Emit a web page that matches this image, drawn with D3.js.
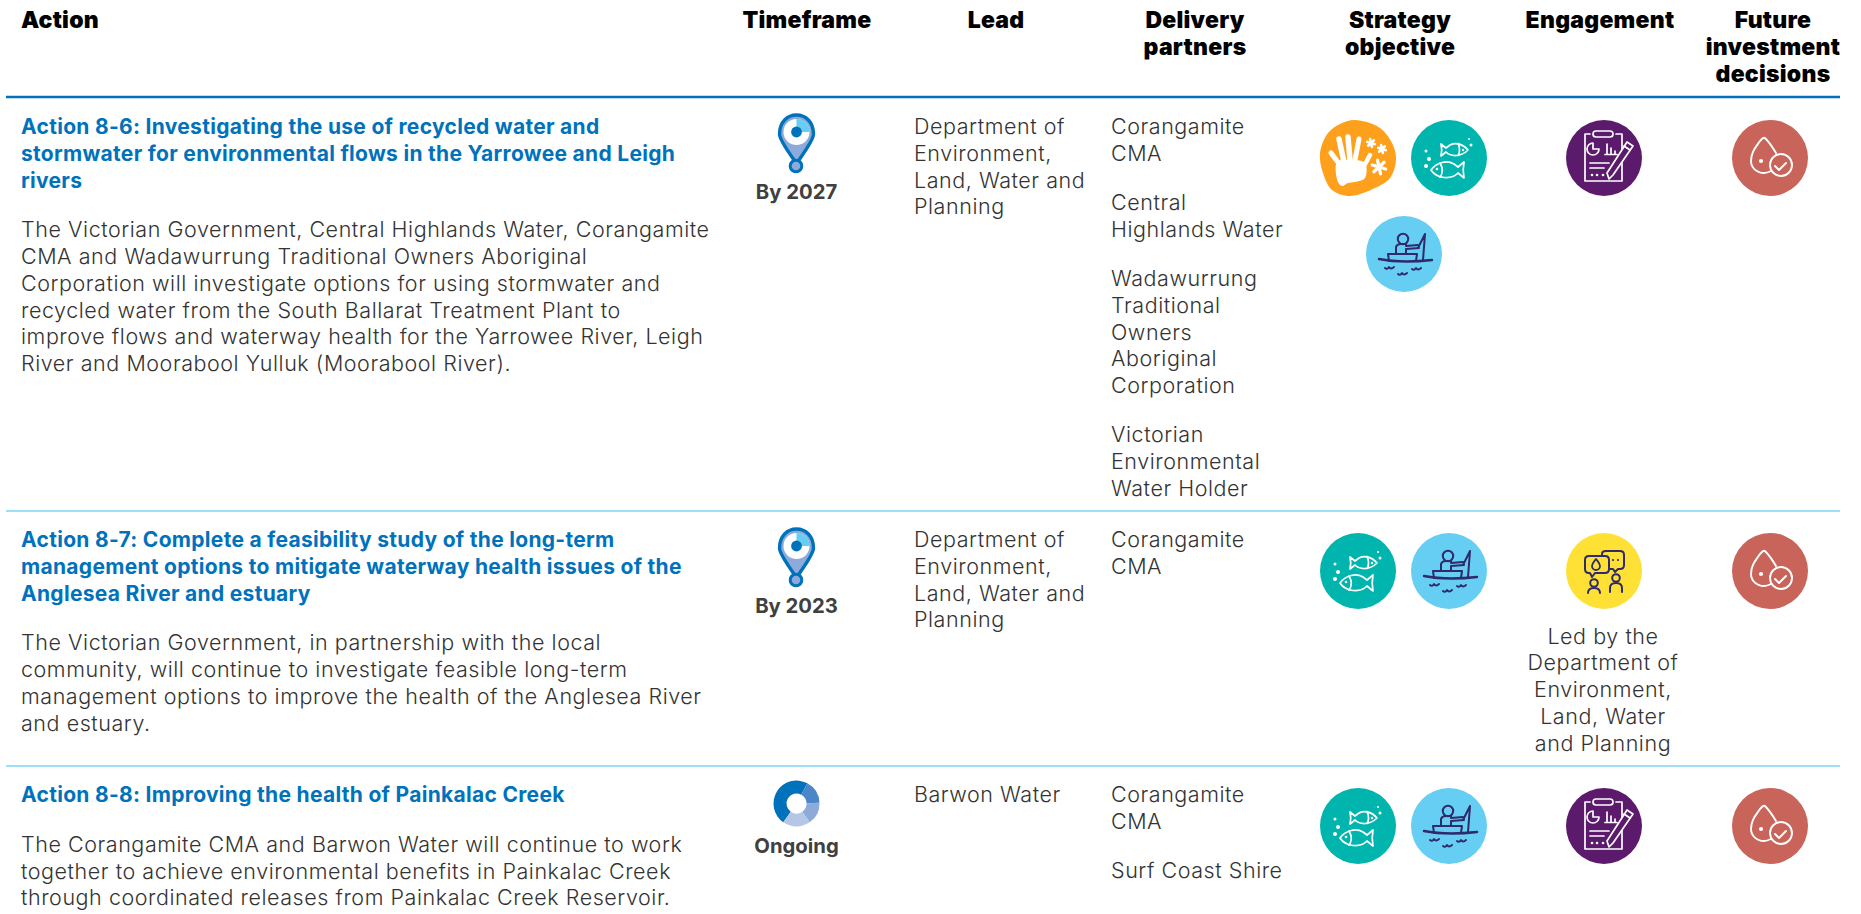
<!DOCTYPE html>
<html><head><meta charset="utf-8">
<script src="https://cdnjs.cloudflare.com/ajax/libs/d3/7.8.5/d3.min.js"></script>
<style>
html,body{margin:0;padding:0;background:#fff}
svg{display:block}
text{font-family:Inter,"Noto Sans",sans-serif;font-kerning:normal}
.hdr{font-size:23px;font-weight:900;fill:#000;letter-spacing:.25px}
.title{font-size:21px;font-weight:700;fill:#0072bc;letter-spacing:.3px}
.body{font-size:21.5px;font-weight:300;fill:#333;letter-spacing:.55px}
.tf{font-size:20.3px;font-weight:700;fill:#404040}
</style></head><body>
<svg id="c" width="1861" height="914"></svg>
<script>
// ---------- data ----------
const columns = ["action","timeframe","lead","partners","strategy","engagement","future"];
const headers = [["Action"],["Timeframe"],["Lead"],["Delivery","partners"],["Strategy","objective"],["Engagement"],["Future","investment","decisions"]];
const titles = [
 ["Action 8-6: Investigating the use of recycled water and","stormwater for environmental flows in the Yarrowee and Leigh","rivers"],
 ["Action 8-7: Complete a feasibility study of the long-term","management options to mitigate waterway health issues of the","Anglesea River and estuary"],
 ["Action 8-8: Improving the health of Painkalac Creek"]];
const bodies = [
 ["The Victorian Government, Central Highlands Water, Corangamite","CMA and Wadawurrung Traditional Owners Aboriginal","Corporation will investigate options for using stormwater and","recycled water from the South Ballarat Treatment Plant to","improve flows and waterway health for the Yarrowee River, Leigh","River and Moorabool Yulluk (Moorabool River)."],
 ["The Victorian Government, in partnership with the local","community, will continue to investigate feasible long-term","management options to improve the health of the Anglesea River","and estuary."],
 ["The Corangamite CMA and Barwon Water will continue to work","together to achieve environmental benefits in Painkalac Creek","through coordinated releases from Painkalac Creek Reservoir."]];
const timeframes = ["By 2027","By 2023","Ongoing"];
const timeIcons = ["pin","pin","donut"];
const ongoingShares = [173,60,57,70];
const ongoingColors = ["#0072bc","#4a86c8","#8eaadb","#b4c7e7"];
const leads = [
 ["Department of","Environment,","Land, Water and","Planning"],
 ["Department of","Environment,","Land, Water and","Planning"],
 ["Barwon Water"]];
const partners = [
 [["Corangamite","CMA"],["Central","Highlands Water"],["Wadawurrung","Traditional","Owners","Aboriginal","Corporation"],["Victorian","Environmental","Water Holder"]],
 [["Corangamite","CMA"]],
 [["Corangamite","CMA"],["Surf Coast Shire"]]];
const strategyIcons = [["hand","fish","fisher"],["fish","fisher"],["fish","fisher"]];
const engagementIcons = ["plan","talk","plan"];
const engagementNotes = [[],["Led by the","Department of","Environment,","Land, Water","and Planning"],[]];
const futureIcons = ["drop","drop","drop"];
const rowTops = [97,511,766];

// ---------- layout ----------
const colX = d3.scaleOrdinal().domain(columns).range([21,796.5,914,1111,1358,1604,1770]);
const headX = d3.scaleOrdinal().domain(columns).range([21,807,996,1195,1400,1600,1773]);
const LH = 26.75, GAP = 22.5;
const svg = d3.select("#c");
const NAVY="#2e2a6b", WHITE="#fff";

function lines(g,x,y,arr,cls,anchor){
  g.selectAll(null).data(arr).join("text").attr("class",cls)
   .attr("x",x).attr("y",(d,i)=>y+i*LH).attr("text-anchor",anchor||"start").text(d=>d);
  return y+arr.length*LH;
}

// header
const hg = svg.append("g");
headers.forEach((h,i)=>lines(hg,headX(columns[i]),28,h,"hdr",i?"middle":"start"));
hg.append("line").attr("x1",6).attr("x2",1840).attr("y1",97).attr("y2",97).attr("stroke","#0072bc").attr("stroke-width",2.6);
svg.selectAll(".sep").data(rowTops.slice(1)).join("line").attr("class","sep")
  .attr("x1",6).attr("x2",1840).attr("y1",d=>d).attr("y2",d=>d).attr("stroke","#7fd3f4").attr("stroke-width",1.4);

// icon helpers
const curve=d3.line().curve(d3.curveCatmullRomClosed.alpha(.5));
function disc(g,color){g.append("circle").attr("r",38).attr("fill",color);}
function st(sel,c,w){return sel.attr("fill","none").attr("stroke",c).attr("stroke-width",w).attr("stroke-linecap","round").attr("stroke-linejoin","round");}
function asterisk(g,x,y,r,w){
  d3.range(3).forEach(k=>{const a=k*Math.PI/3+.3;
    st(g.append("line").attr("x1",x-r*Math.cos(a)).attr("y1",y-r*Math.sin(a)).attr("x2",x+r*Math.cos(a)).attr("y2",y+r*Math.sin(a)),WHITE,w);});
}
const icons={
 hand(g){
  g.append("path").attr("d",curve([[-3,-38],[22,-30],[35,-13],[38,2],[32,20],[17,30],[-8,38],[-26,32],[-35,15],[-38,-5],[-30,-25],[-18,-34]])).attr("fill","#ffa01c");
  [[[-27,-5],[-18,7],5],[[-19,-19],[-14,4],5.5],[[-10,-21],[-8,2],5.5],[[1,-19],[-3,2],5],[[12,-3],[5,10],4.5]]
   .forEach(f=>st(g.append("line").attr("x1",f[0][0]).attr("y1",f[0][1]).attr("x2",f[1][0]).attr("y2",f[1][1]),WHITE,f[2]));
  g.append("path").attr("d",curve([[-21,4],[-6,2],[7,5],[7,20],[-3,24],[-10,25],[-16,28],[-20,24]])).attr("fill",WHITE);
  asterisk(g,13,-15,4,2.6);asterisk(g,24,-9,4,2.6);asterisk(g,21,9,7,3.2);
 },
 fish(g){
  const w=1.7;
  st(g.append("path").attr("d","M19,-8 C14,-14 7,-16 1,-13 L-3,-10 L-8,-14 C-7,-10 -7,-6 -8,-2 L-3,-6 C2,-1 12,-1 19,-8 Z"),WHITE,w);
  st(g.append("path").attr("d","M9,-14.5 C11,-11 11,-5 9,-2.5"),WHITE,w);
  g.append("circle").attr("cx",14).attr("cy",-8).attr("r",1.2).attr("fill",WHITE);
  st(g.append("path").attr("d","M-18,12 C-12,4 -2,2 5,6 L9,9 L15,4 C14,9 14,15 15,20 L9,15 C2,22 -12,21 -18,12 Z"),WHITE,w);
  st(g.append("path").attr("d","M-9,5 C-6,10 -6,15 -9,19"),WHITE,w);
  g.append("circle").attr("cx",-12).attr("cy",11).attr("r",1.3).attr("fill",WHITE);
  [[-23,-7,1.5],[-20,1,2],[-23,8,2],[20,-19,1.1],[22,-13,1.5]].forEach(b=>g.append("circle").attr("cx",b[0]).attr("cy",b[1]).attr("r",b[2]).attr("fill",WHITE));
 },
 fisher(g){
  const w=2;
  st(g.append("circle").attr("cx",-1).attr("cy",-15).attr("r",5.2),NAVY,w);
  st(g.append("path").attr("d","M-8,0 L-8,-7 Q-7,-10 -3,-10 L2,-10 L2,-8 L14,-9 M2,-5 L15,-6 M2,-5 L2,0"),NAVY,w);
  st(g.append("path").attr("d","M21,-20 L14,-6 M21,-20 L19,6 M-16,0 L13,0 L12,7 M-16,0 L-15,7"),NAVY,w);
  st(g.append("path").attr("d","M-25,5 C-10,8 10,8 28,6"),NAVY,2.4);
  [[-15,14],[-2,20],[12,15]].forEach(p=>st(g.append("path").attr("d",`M${p[0]-4},${p[1]} q2,2 4,-1 q2,3 5,0`),NAVY,1.9));
 },
 plan(g){
  const w=1.7;
  st(g.append("path").attr("d","M-14,-24 H-19 V23 H18 V-24 H12"),WHITE,w);
  st(g.append("rect").attr("x",-11).attr("y",-27).attr("width",20).attr("height",6).attr("rx",3),WHITE,w);
  st(g.append("path").attr("d","M-11,-15 A6,6 0 1 0 -5,-9 L-11,-9 Z"),WHITE,w);
  st(g.append("path").attr("d","M3,-14 V-4 M7,-10 V-4 M11,-7 V-4 M1,-3.5 H13"),WHITE,w);
  st(g.append("path").attr("d","M-14,5 H5 M-14,10 H0"),WHITE,w);
  [-12,-7,-1].forEach(x=>g.append("circle").attr("cx",x).attr("cy",17).attr("r",1.3).attr("fill",WHITE));
  g.append("path").attr("d","M23,-16 L29,-12 L9,17 L5,21 L3,15 Z").attr("fill","#5b1a6b").attr("stroke",WHITE).attr("stroke-width",w).attr("stroke-linejoin","round");
  st(g.append("path").attr("d","M20,-12 L26,-8"),WHITE,w);
 },
 talk(g){
  const w=2, c=NAVY;
  st(g.append("path").attr("d","M-2,-15 V-17 Q-2,-20 2,-20 H16 Q20,-20 20,-16 V-6 Q20,-2 16,-2 H14 L11,1 L9,-2 H5"),c,w);
  st(g.append("path").attr("d","M-15,-15 H1 Q5,-15 5,-11 V-2 Q5,2 1,2 H-9 L-12,6 L-14,2 H-15 Q-19,2 -19,-2 V-11 Q-19,-15 -15,-15 Z"),c,w);
  st(g.append("path").attr("d","M-8,-12 C-6,-9 -4,-8 -4,-5 A3.8,3.8 0 0 1 -12,-5 C-12,-8 -10,-9 -8,-12 Z"),c,1.8);
  [9,14].forEach(x=>g.append("circle").attr("cx",x).attr("cy",-11).attr("r",1.1).attr("fill",c));
  st(g.append("circle").attr("cx",-10).attr("cy",12).attr("r",3.8),c,w);
  st(g.append("path").attr("d","M-16,22 Q-16,17 -10,17 Q-4,17 -4,22"),c,w);
  st(g.append("circle").attr("cx",12).attr("cy",7).attr("r",3.8),c,w);
  st(g.append("path").attr("d","M6,21 V17 Q6,12 12,12 Q18,12 18,17 V21"),c,w);
 },
 drop(g){
  const w=1.9;
  st(g.append("path").attr("d","M6,-5 C3,-10 -1,-16 -5,-20 C-7,-21 -8,-19 -10,-17 C-14,-11 -19,-6 -19,3 C-19,10 -13,15 -6,15 C-3,15 -1,14 1,13"),WHITE,w);
  st(g.append("circle").attr("cx",11).attr("cy",7).attr("r",11),WHITE,w);
  st(g.append("path").attr("d","M5,8 L9,12 L16,5"),WHITE,w);
  g.append("circle").attr("cx",-9).attr("cy",3).attr("r",2.1).attr("fill",WHITE);
 }
};
const discColors={fish:"#00b5ad",fisher:"#66cdf3",plan:"#5b1a6b",talk:"#ffe135",drop:"#c9645a"};
function icon(name,x,y){
  const g=svg.append("g").attr("transform",`translate(${x},${y})`);
  if(discColors[name]) disc(g,discColors[name]);
  icons[name](g);
}
function pin(x,y){
  const g=svg.append("g").attr("transform",`translate(${x},${y})`);
  g.append("path").attr("d","M-17,2 C-17,-10 -9,-17 0,-17 C9,-17 17,-10 17,2 C17,8 8,20 1,30 L-1,30 C-8,20 -17,8 -17,2 Z")
   .attr("fill","#8eaadb").attr("stroke","#0072bc").attr("stroke-width",3.4).attr("stroke-linejoin","round");
  g.append("circle").attr("r",13).attr("fill",WHITE);
  g.append("path").attr("d",d3.arc()({innerRadius:0,outerRadius:13,startAngle:0,endAngle:Math.PI/2})).attr("fill","#66cdf3");
  g.append("circle").attr("r",5.4).attr("fill","#0072bc");
  g.append("circle").attr("cx",-.5).attr("cy",34).attr("r",5.8).attr("fill","#8eaadb").attr("stroke","#0072bc").attr("stroke-width",3);
}
function donut(x,y){
  const g=svg.append("g").attr("transform",`translate(${x},${y})`);
  const a0=28*Math.PI/180;
  const pie=d3.pie().sort(null).startAngle(a0-173*Math.PI/180).endAngle(a0+187*Math.PI/180);
  g.selectAll("path").data(pie(ongoingShares)).join("path").attr("d",d3.arc().innerRadius(10).outerRadius(23)).attr("fill",(d,i)=>ongoingColors[i]);
}

// rows
const stratPos=[[[1358,0],[1449,0],[1404,96]],[[1358,0],[1449,0]],[[1358,0],[1449,0]]];
rowTops.forEach((top,r)=>{
  const g=svg.append("g");
  const base=top+(r===0?37:36);
  let y=lines(g,colX("action"),base,titles[r],"title");
  lines(g,colX("action"),y+GAP+.5,bodies[r],"body");
  const tx=colX("timeframe");
  if(timeIcons[r]==="pin"){pin(tx,top+35);lines(g,tx,top+102,[timeframes[r]],"tf","middle");}
  else{donut(tx,top+37.5);lines(g,tx,top+86.5,[timeframes[r]],"tf","middle");}
  lines(g,colX("lead"),base,leads[r],"body");
  let py=base;
  partners[r].forEach(p=>{py=lines(g,colX("partners"),py,p,"body")+GAP;});
  const cy=top+(r===0?61:60);
  strategyIcons[r].forEach((n,i)=>icon(n,stratPos[r][i][0],cy+stratPos[r][i][1]));
  icon(engagementIcons[r],colX("engagement"),cy);
  lines(g,colX("engagement")-1,top+132.5,engagementNotes[r],"body","middle");
  icon(futureIcons[r],colX("future"),cy);
});
</script></body></html>
